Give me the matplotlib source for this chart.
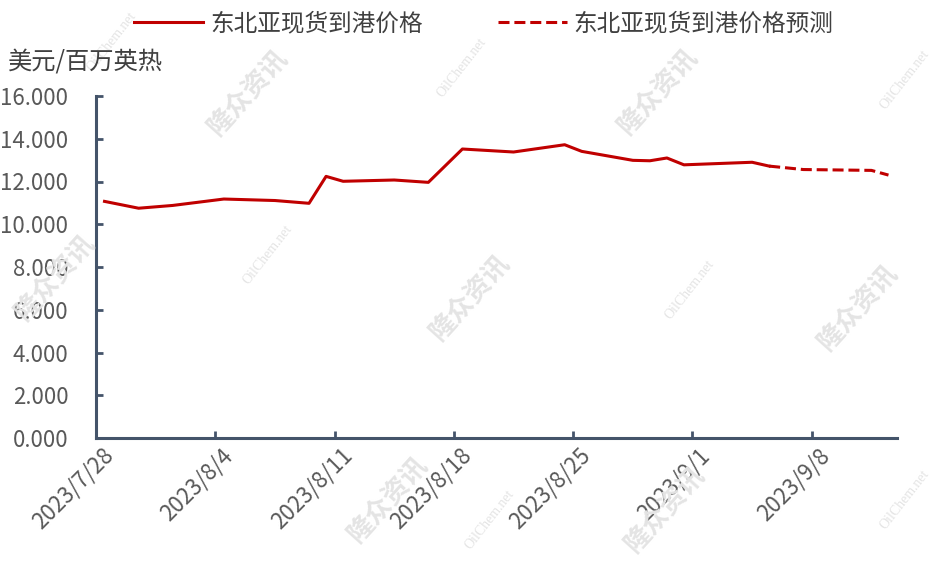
import matplotlib
matplotlib.use("Agg")
import matplotlib.pyplot as plt
import matplotlib.transforms as mtransforms
import pandas as pd

# ---- data ----
actual_dates = ["2023-07-28", "2023-07-30", "2023-08-01", "2023-08-04", "2023-08-07",
                "2023-08-09", "2023-08-10", "2023-08-11", "2023-08-14", "2023-08-16",
                "2023-08-18", "2023-08-21", "2023-08-24", "2023-08-25", "2023-08-28",
                "2023-08-29", "2023-08-30", "2023-08-31", "2023-09-04", "2023-09-05"]
actual_values = [11.07, 10.75, 10.88, 11.18, 11.11,
                 10.98, 12.24, 12.01, 12.07, 11.96,
                 13.52, 13.38, 13.72, 13.41, 12.99,
                 12.97, 13.10, 12.78, 12.90, 12.72]
forecast_dates = ["2023-09-05", "2023-09-07", "2023-09-08", "2023-09-11", "2023-09-12"]
forecast_values = [12.72, 12.56, 12.55, 12.52, 12.30]
tick_labels = ["2023/7/28", "2023/8/4", "2023/8/11", "2023/8/18", "2023/8/25", "2023/9/1", "2023/9/8"]
y_ticks = [0, 2, 4, 6, 8, 10, 12, 14, 16]
series_names = ["东北亚现货到港价格", "东北亚现货到港价格预测"]
y_unit = "美元/百万英热"

start = pd.Timestamp("2023-07-28")
def to_day(ds):
    return [(pd.Timestamp(d) - start).days for d in ds]

plt.rcParams['font.family'] = ['Liberation Sans Narrow', 'Noto Sans CJK SC', 'DejaVu Sans']

fig = plt.figure(figsize=(9.4, 5.64), dpi=100)
ax = fig.add_axes([96/940, 1-438/564, (897-96)/940, (438-96)/564])

red = '#C00000'
ax.plot(to_day(actual_dates), actual_values, color=red, lw=2.2, label=series_names[0],
        solid_joinstyle='round', zorder=3)
ax.plot(to_day(forecast_dates), forecast_values, color=red, lw=2.2, ls=(0, (3.6, 1.6)),
        label=series_names[1], zorder=3)

ax.set_xlim(-0.5, 46.5)
ax.set_ylim(0, 16)
ax.set_yticks(y_ticks)
ax.set_yticklabels([f"{v:.3f}" for v in y_ticks])
xt = [i * 7 - 0.5 for i in range(len(tick_labels))]
ax.set_xticks(xt)
ax.set_xticklabels(tick_labels, rotation=45, ha='right', va='center', rotation_mode='anchor')

spine_c = '#44546A'
for s in ['top', 'right']:
    ax.spines[s].set_visible(False)
for s in ['left', 'bottom']:
    ax.spines[s].set_color(spine_c)
    ax.spines[s].set_linewidth(2.2)
ax.tick_params(axis='both', direction='in', length=5, width=2, color=spine_c,
               labelcolor='#595959', labelsize=16)
ax.tick_params(axis='y', pad=20)
ax.tick_params(axis='x', pad=8)
off = mtransforms.ScaledTranslation(14/100, -3/100, fig.dpi_scale_trans)
for lab in ax.get_xticklabels():
    lab.set_transform(lab.get_transform() + off)

fig.text(8/940, 1-62/564, y_unit, fontsize=17.5, color='#404040', va='center', ha='left',
         family=['Noto Sans CJK SC', 'DejaVu Sans'])

leg = fig.legend(loc='center', bbox_to_anchor=(484/940, 1-24/564), ncol=2, frameon=False,
                 handlelength=2.9, handletextpad=0.3, columnspacing=3.2,
                 prop={'family': ['Noto Sans CJK SC', 'DejaVu Sans'], 'size': 17})
for t in leg.get_texts():
    t.set_color('#404040')

# watermarks
wm_c = '#E4E4E4'
for (x, y) in [(248, 93), (658, 92), (470, 298), (858, 308), (55, 278), (388, 500), (665, 510)]:
    fig.text(x/940, 1-y/564, "隆众资讯", rotation=48, fontsize=19, color=wm_c, weight='bold',
             ha='center', va='center', family=['Noto Sans CJK SC'], zorder=0, style='italic')
for (x, y) in [(462, 68), (268, 255), (690, 290), (905, 80), (905, 500), (490, 520), (112, 42)]:
    fig.text(x/940, 1-y/564, "OilChem.net", rotation=52, fontsize=10, color=wm_c,
             ha='center', va='center', family=['Liberation Serif'], zorder=0)

fig.savefig("out.png", dpi=100)
